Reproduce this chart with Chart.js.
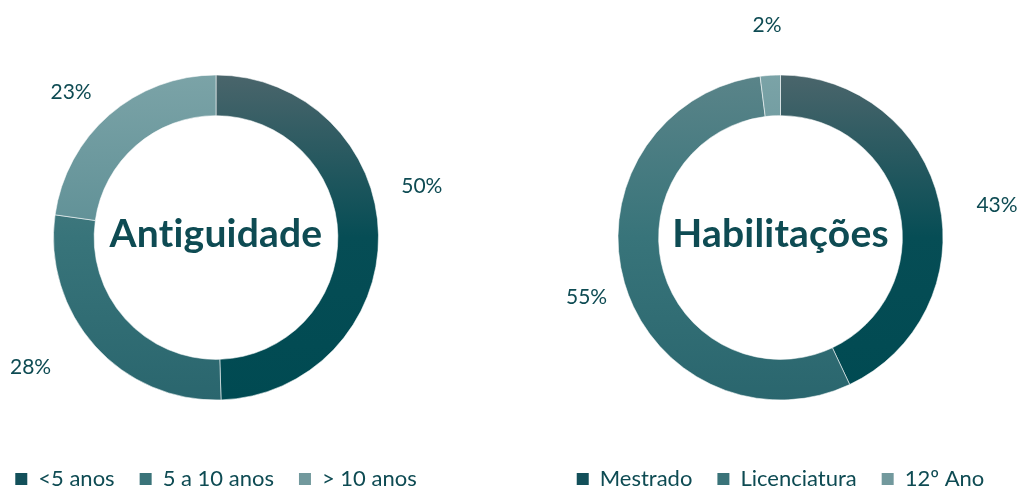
<!DOCTYPE html>
<html>
<head>
<meta charset="utf-8">
<script src="https://cdn.jsdelivr.net/npm/chart.js@4/dist/chart.umd.min.js"></script>
<style>
  html, body { margin: 0; padding: 0; background: #ffffff; width: 1021px; height: 489px; overflow: hidden; position: relative; }
  .box { position: absolute; top: 0; }
</style>
</head>
<body>
<div class="box" style="left:-46px;width:560px;height:500px;"><canvas id="chartA" width="560" height="500"></canvas></div>
<div class="box" style="left:510px;width:511px;height:500px;"><canvas id="chartB" width="511" height="500"></canvas></div>
<script>
// ---- data ----
const antiguidadeTitle = 'Antiguidade';
const antiguidadeCategories = ['<5 anos', '5 a 10 anos', '> 10 anos'];
const antiguidadeValues = [50, 28, 23];

const habilitacoesTitle = 'Habilitações';
const habilitacoesCategories = ['Mestrado', 'Licenciatura', '12º Ano'];
const habilitacoesValues = [43, 55, 2];

// ---- style ----
const TEXT_COLOR = '#0e4b53';
const FONT = 'Lato, "Open Sans", sans-serif';
const RING_RADIUS = 162.5;
// gradient stops (top, middle, bottom) per series position
const GRADIENTS = [
  ['#4a656b', '#064d55', '#004a52'],
  ['#5a8489', '#38747a', '#2a666e'],
  ['#7ba3a7', '#5f9096', '#4f8085']
];
const LEGEND_COLORS = ['#13505a', '#3a7379', '#72999d'];

function gradientFill(ctx) {
  const chart = ctx.chart;
  const area = chart.chartArea;
  const stops = GRADIENTS[ctx.dataIndex % GRADIENTS.length];
  if (!area) return stops[1];
  const cy = (area.top + area.bottom) / 2;
  const g = chart.ctx.createLinearGradient(0, cy - RING_RADIUS, 0, cy + RING_RADIUS);
  g.addColorStop(0, stops[0]);
  g.addColorStop(0.5, stops[1]);
  g.addColorStop(1, stops[2]);
  return g;
}

const labelPlugin = {
  id: 'outerLabels',
  afterDraw(chart, args, opts) {
    const ctx = chart.ctx;
    const meta = chart.getDatasetMeta(0);
    const values = chart.data.datasets[0].data;
    const area = chart.chartArea;
    const cx = (area.left + area.right) / 2;
    const cy = (area.top + area.bottom) / 2;
    ctx.save();
    ctx.fillStyle = TEXT_COLOR;
    ctx.textAlign = 'center';
    ctx.textBaseline = 'middle';
    ctx.font = '21px ' + FONT;
    meta.data.forEach((arc, i) => {
      const nudgeA = (opts.angleNudge && opts.angleNudge[i]) || 0;
      const nudgeR = (opts.distNudge && opts.distNudge[i]) || 0;
      const mid = (arc.startAngle + arc.endAngle) / 2 + nudgeA * Math.PI / 180;
      const d = opts.distance + nudgeR;
      ctx.fillText(values[i] + '%', cx + Math.cos(mid) * d, cy + Math.sin(mid) * d);
    });
    // center title
    ctx.font = 'bold 39px ' + FONT;
    if ('letterSpacing' in ctx) ctx.letterSpacing = '0.2px';
    ctx.fillText(opts.title, cx, cy - 3);
    ctx.restore();
  }
};

function makeChart(canvasId, title, categories, values, pad, angleNudge, distNudge) {
  return new Chart(document.getElementById(canvasId), {
    type: 'doughnut',
    data: {
      labels: categories,
      datasets: [{
        data: values,
        backgroundColor: gradientFill,
        borderColor: 'rgba(255,255,255,0.55)',
        borderWidth: 1,
        radius: RING_RADIUS,
        cutout: '75%'
      }]
    },
    options: {
      responsive: false,
      animation: false,
      devicePixelRatio: 1,
      layout: { padding: pad },
      plugins: {
        tooltip: { enabled: false },
        legend: {
          position: 'bottom',
          labels: {
            boxWidth: 12,
            boxHeight: 12,
            padding: 25,
            color: TEXT_COLOR,
            font: { family: FONT, size: 22 },
            generateLabels(chart) {
              return chart.data.labels.map((l, i) => ({
                text: l,
                fillStyle: LEGEND_COLORS[i],
                strokeStyle: LEGEND_COLORS[i],
                lineWidth: 0,
                fontColor: TEXT_COLOR,
                index: i,
                hidden: false
              }));
            }
          }
        },
        outerLabels: { title: title, distance: 212, angleNudge: angleNudge, distNudge: distNudge }
      }
    },
    plugins: [labelPlugin]
  });
}

makeChart('chartA', antiguidadeTitle, antiguidadeCategories, antiguidadeValues,
  { top: 32, bottom: 0, left: 0, right: 36 }, [-13, 7, -4], [0, 14, -7]);
makeChart('chartB', habilitacoesTitle, habilitacoesCategories, habilitacoesValues,
  { top: 32, bottom: 0, left: 30, right: 0 }, [4, -1, 0], [7, -9, 1]);
</script>
</body>
</html>
